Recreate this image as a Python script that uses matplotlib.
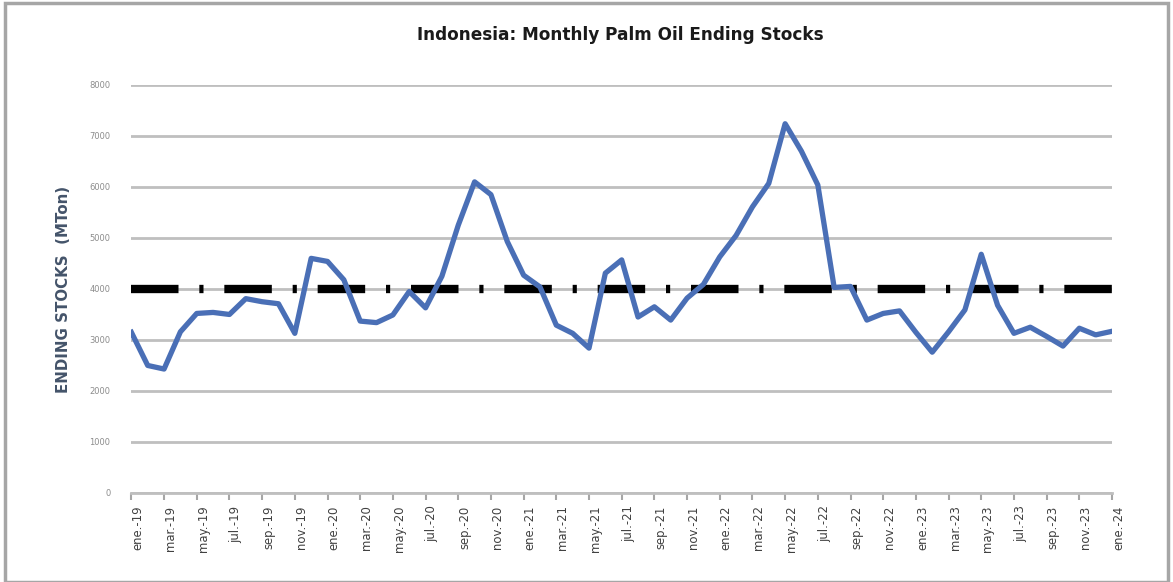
import matplotlib
matplotlib.use("Agg")
import matplotlib.pyplot as plt
from matplotlib.patches import Rectangle

# monthly ending stocks (MTon), ene-19 .. ene-24
months = ["ene.", "feb.", "mar.", "abr.", "may.", "jun.",
          "jul.", "ago.", "sep.", "oct.", "nov.", "dic."]
years = ["19", "20", "21", "22", "23", "24"]

stocks_2019 = [3150, 2500, 2430, 3160, 3520, 3540, 3500, 3810, 3750, 3710, 3130, 4600]
stocks_2020 = [4540, 4180, 3370, 3340, 3490, 3950, 3630, 4250, 5250, 6100, 5850, 4930]
stocks_2021 = [4270, 4040, 3290, 3130, 2840, 4310, 4570, 3450, 3650, 3390, 3820, 4090]
stocks_2022 = [4630, 5050, 5610, 6070, 7240, 6700, 6040, 4030, 4050, 3390, 3520, 3570]
stocks_2023 = [3150, 2760, 3160, 3590, 4680, 3680, 3130, 3250, 3070, 2880, 3230, 3100]
stocks_2024 = [3170]

reference_level = 4000

stocks = stocks_2019 + stocks_2020 + stocks_2021 + stocks_2022 + stocks_2023 + stocks_2024
labels = [m + "-" + y for y in years for m in months][:len(stocks)]
x = list(range(len(stocks)))

fig = plt.figure(figsize=(11.73, 5.82), dpi=100)
fig.patches.append(Rectangle((0.004, 0.0), 0.992, 0.994, transform=fig.transFigure,
                             fill=False, edgecolor="#a6a6a6", linewidth=2.5))

ax = fig.add_axes([0.112, 0.153, 0.836, 0.701])

ax.set_ylim(0, 8000)
ax.set_xlim(0, len(stocks) - 1)
ax.set_yticks(range(0, 8001, 1000))
ax.grid(axis="y", color="#bfbfbf", linewidth=2)
ax.set_axisbelow(True)

# long dash - dot reference line
ax.axhline(reference_level, color="black", linewidth=6,
           dashes=(5.7, 2.5, 0.5, 2.5), dash_capstyle="butt", zorder=2)
ax.plot(x, stocks, color="#4a6fb6", linewidth=3.8, solid_joinstyle="round", zorder=3)

ax.set_xticks(x[::2])
ax.set_xticklabels(labels[::2], rotation=90, ha="left", fontsize=8.4, color="#404040")
ax.tick_params(axis="x", length=5, width=1.5, color="#a6a6a6", pad=4)
ax.tick_params(axis="y", length=0, pad=15, labelsize=6, labelcolor="#8c8c8c")

for s in ["top", "right", "left"]:
    ax.spines[s].set_visible(False)
ax.spines["bottom"].set_color("#bfbfbf")
ax.spines["bottom"].set_linewidth(2)

ax.set_ylabel("ENDING STOCKS  (MTon)", fontsize=10.8, fontweight="bold", color="#44546a")
ax.yaxis.set_label_coords(-0.062, 0.5)

fig.suptitle("Indonesia: Monthly Palm Oil Ending Stocks", x=0.529, y=0.955,
             fontsize=12.2, fontweight="bold", color="#1a1a1a")

fig.savefig("out.png", dpi=100)
